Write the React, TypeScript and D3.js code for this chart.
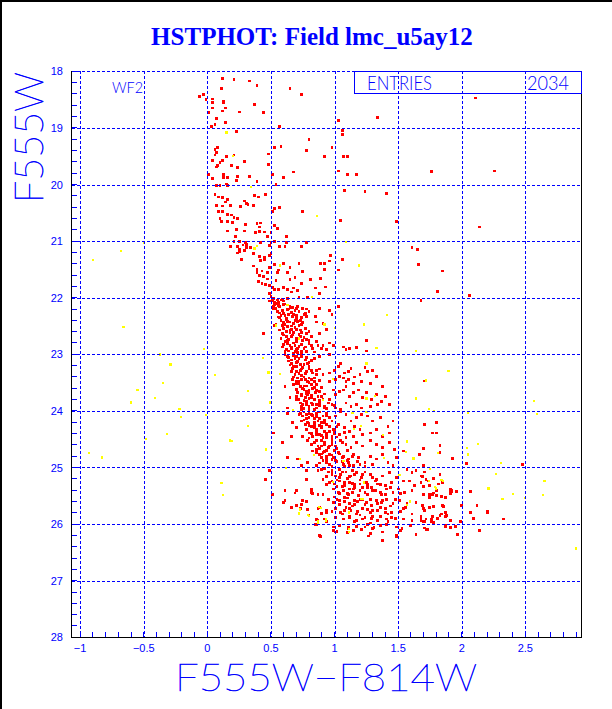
import React, { useEffect, useRef } from "react";
import * as d3 from "d3";

const title = "HSTPHOT: Field lmc_u5ay12";
const xLabel = "F555W\u2212F814W";
const yLabel = "F555W";
const chipName = "WF2";
const entriesLabel = "ENTRIES";
const entriesValue = "2034";

const xGrid = [-1, -0.5, 0, 0.5, 1, 1.5, 2, 2.5];
const xTickLabels = ["\u22121", "\u22120.5", "0", "0.5", "1", "1.5", "2", "2.5"];
const yGrid = [18, 19, 20, 21, 22, 23, 24, 25, 26, 27, 28];

// stars brighter than ~21 mag (upper main sequence + scattered)
const upperSequence = [
  [0.12,18.13],[0.21,18.14],[0.33,18.17],[0.39,18.25],[0.11,18.31],[0.65,18.31],[0.74,18.41],[-0.06,18.45],
  [-0.03,18.41],[-0.01,18.5],[0.04,18.49],[0.04,18.55],[0.13,18.53],[0.13,18.56],[0.04,18.65],[0.14,18.65],
  [0.12,18.7],[0.25,18.72],[0.44,18.73],[0.37,18.59],[0.01,18.73],[0.07,18.84],[0.14,18.91],[0.06,18.94],
  [0.03,18.98],[0.57,18.98],[1.03,18.87],[1.34,18.82],[0.23,19.06],[1.06,19.04],[1.06,19.12],[2.11,18.47],
  [0.08,19.34],[0.06,19.38],[0.07,19.43],[0.06,19.48],[0.21,19.48],[0.15,19.5],[0.12,19.58],[0.04,19.58],
  [0.1,19.61],[0.29,19.6],[0.19,19.67],[0.08,19.67],[0.07,19.69],[0.24,19.7],[0.48,19.46],[0.53,19.35],
  [0.58,19.33],[0.48,19.64],[0.78,19.4],[0.8,19.21],[0.92,19.5],[0.98,19.35],[1.07,19.51],[1.1,19.5],
  [1.03,19.76],[1.1,19.83],[1.17,19.82],[0.68,19.78],[0.6,19.87],[0.51,19.83],[0.01,19.83],[0.04,19.89],
  [0.13,19.82],[0.13,19.87],[0.16,19.87],[0.24,19.86],[0.33,19.86],[0.39,19.95],[0.23,19.93],[1.76,19.77],
  [2.26,19.76],[0.07,20.02],[0.1,20.02],[0.15,19.99],[0.16,20.02],[0.54,20.0],[1.08,20.1],[1.24,20.12],
  [1.41,20.16],[0.06,20.18],[0.09,20.22],[0.12,20.23],[0.16,20.26],[0.37,20.19],[0.4,20.22],[0.46,20.17],
  [0.07,20.37],[0.12,20.38],[0.18,20.37],[0.14,20.31],[0.29,20.29],[0.31,20.34],[0.32,20.36],[0.36,20.37],
  [0.26,20.39],[0.53,20.43],[0.57,20.41],[0.51,20.47],[0.75,20.48],[0.09,20.48],[0.12,20.48],[0.16,20.53],
  [0.19,20.54],[0.1,20.6],[0.11,20.65],[0.16,20.65],[0.2,20.67],[0.24,20.6],[0.21,20.58],[1.05,20.64],
  [1.49,20.66],[2.14,20.75],[0.39,20.69],[0.42,20.68],[0.3,20.7],[0.41,20.75],[0.53,20.73],[0.55,20.78],
  [0.16,20.82],[0.23,20.8],[0.41,20.83],[0.45,20.84],[0.5,20.85],[0.62,20.92],[0.29,20.82],[0.38,20.85],
  [0.47,20.92],[0.22,20.92],
];

// turnoff region, 21 to 22.2 mag
const turnoffStars = [
  [0.21,21.0],[0.25,21.01],[0.3,21.03],[0.31,21.06],[0.28,21.07],[0.24,21.09],[0.25,21.15],[0.34,21.12],
  [0.31,21.12],[0.29,21.16],[0.18,21.1],[0.5,21.02],[0.49,21.08],[0.42,21.02],[0.53,21.01],[0.62,21.02],
  [0.78,21.03],[0.74,21.1],[0.61,21.1],[0.57,21.09],[0.97,21.25],[1.03,21.51],[1.06,21.33],[0.96,21.35],
  [0.92,21.5],[0.89,21.39],[0.92,21.39],[0.41,21.27],[0.45,21.28],[0.45,21.33],[0.42,21.34],[0.36,21.22],
  [0.27,21.32],[0.24,21.21],[0.25,21.19],[0.5,21.22],[0.49,21.25],[0.53,21.41],[0.56,21.51],[0.55,21.56],
  [0.6,21.4],[0.65,21.46],[0.63,21.56],[0.65,21.68],[0.69,21.65],[0.75,21.54],[0.72,21.4],[0.36,21.44],
  [0.39,21.5],[0.43,21.53],[0.47,21.56],[0.49,21.47],[0.39,21.55],[0.41,21.61],[0.44,21.63],[0.47,21.67],
  [0.4,21.72],[0.43,21.75],[0.46,21.76],[0.49,21.79],[0.51,21.82],[0.54,21.7],[0.53,21.86],[0.56,21.86],
  [0.6,21.82],[0.63,21.85],[0.68,21.83],[0.66,21.9],[0.71,21.87],[0.74,21.75],[0.81,21.68],[0.85,21.83],
  [0.88,21.92],[0.93,21.81],[0.89,21.66],[0.49,21.92],[0.5,21.98],[0.79,21.99],[0.72,22.0],[0.63,22.01],
  [0.59,22.03],[0.55,22.04],[0.53,22.12],[0.56,22.14],[0.6,22.12],[0.67,22.18],[0.71,22.16],[0.78,22.2],
  [0.88,22.19],[1.03,22.16],[0.49,22.06],[0.52,22.19],[1.61,21.12],[1.65,21.15],[1.66,21.42],[1.85,21.53],
  [1.81,21.89],[2.06,21.96],[1.68,22.05],[1.81,21.9],
];

// main sequence ridge, 22 to 24 mag
const ridgeUpper = [
  [0.51,22.05],[0.53,22.09],[0.56,22.08],[0.58,22.04],[0.61,22.11],[0.63,22.13],[0.52,22.15],[0.54,22.19],
  [0.57,22.16],[0.59,22.22],[0.63,22.21],[0.66,22.18],[0.69,22.23],[0.71,22.15],[0.75,22.19],[0.77,22.28],
  [0.8,22.25],[0.57,22.27],[0.61,22.31],[0.64,22.29],[0.67,22.33],[0.7,22.37],[0.73,22.4],[0.76,22.29],
  [0.78,22.33],[0.85,22.33],[0.86,22.43],[0.72,22.25],[0.74,22.47],[0.56,22.34],[0.58,22.4],[0.62,22.39],
  [0.65,22.43],[0.68,22.46],[0.54,22.47],[0.59,22.49],[0.63,22.51],[0.66,22.56],[0.69,22.53],[0.73,22.57],
  [0.77,22.54],[0.8,22.6],[0.91,22.46],[0.94,22.56],[0.96,22.22],[0.98,22.29],[1.03,22.16],
  [0.57,22.57],[0.59,22.63],[0.62,22.69],[0.65,22.62],[0.67,22.66],[0.7,22.72],[0.73,22.68],[0.75,22.75],
  [0.78,22.63],[0.82,22.69],[0.86,22.78],[0.88,22.63],[0.91,22.84],[0.96,22.8],[0.58,22.72],[0.61,22.78],
  [0.63,22.81],[0.66,22.87],[0.69,22.84],[0.71,22.9],[0.74,22.95],[0.77,22.87],[0.8,22.81],[0.83,22.9],
  [0.87,22.85],[0.9,22.9],[0.94,22.92],[0.99,22.84],[1.07,22.87],[1.09,22.92],[1.12,22.9],[1.17,22.88],
  [1.25,22.75],[1.25,22.94],[0.44,22.63],[0.53,22.49],[0.61,22.95],[0.64,22.94],[0.69,22.95],[0.71,22.97],
  [0.59,22.87],
  [0.61,23.01],[0.63,23.04],[0.66,23.1],[0.69,23.07],[0.71,23.13],[0.74,23.04],[0.77,23.1],[0.79,23.16],
  [0.82,23.11],[0.84,23.07],[0.88,23.04],[0.96,23.01],[0.65,23.19],[0.67,23.25],[0.7,23.21],[0.73,23.28],
  [0.75,23.23],[0.78,23.3],[0.8,23.26],[0.83,23.33],[0.86,23.29],[0.91,23.36],[0.96,23.33],[1.0,23.28],
  [1.03,23.22],[1.05,23.16],[1.08,23.33],[1.11,23.3],[1.13,23.25],[1.16,23.4],[1.2,23.36],[1.24,23.23],
  [1.26,23.3],[1.3,23.28],[1.38,23.57],[0.69,23.36],[0.71,23.42],[0.74,23.38],[0.77,23.45],[0.79,23.48],
  [0.82,23.44],[0.67,23.45],[1.01,23.45],[1.04,23.39],[1.07,23.42],[1.09,23.48],[1.15,23.51],[1.21,23.48],
  [1.28,23.51],[1.33,23.39],[1.11,23.45],[0.61,23.57],[0.96,23.48],[1.71,23.47],
  [0.7,23.51],[0.73,23.57],[0.75,23.6],[0.78,23.56],[0.8,23.63],[0.83,23.6],[0.86,23.54],[0.88,23.66],
  [0.71,23.68],[0.74,23.73],[0.77,23.77],[0.79,23.71],[0.82,23.76],[0.84,23.8],[0.87,23.74],[0.91,23.8],
  [0.95,23.86],[0.99,23.63],[1.01,23.71],[1.04,23.66],[1.07,23.63],[1.09,23.57],[1.12,23.74],[1.15,23.68],
  [1.19,23.63],[1.22,23.77],[1.25,23.68],[1.29,23.8],[1.33,23.71],[1.37,23.83],[1.43,23.89],[0.7,23.8],
  [0.73,23.86],[0.75,23.89],[0.78,23.83],[0.8,23.92],[0.83,23.89],[0.86,23.95],[0.88,23.86],[0.92,23.92],
  [0.98,23.89],[1.01,23.95],[1.05,23.98],[1.09,23.86],[1.13,23.92],[1.17,23.89],[1.21,23.95],[1.28,23.92],
  [1.34,23.89],[1.4,23.74],[0.65,23.77],[0.74,23.98],[0.63,23.95],[0.8,23.68],
];

// lower main sequence and subgiants, 24 to 26.3 mag
const ridgeLower = [
  [0.63,24.04],[0.73,24.04],[0.75,24.09],[0.78,24.07],[0.8,24.12],[0.83,24.08],[0.86,24.05],[0.88,24.14],
  [0.91,24.09],[0.94,24.04],[0.96,24.12],[1.01,24.09],[1.05,24.02],[1.09,24.07],[1.13,24.18],[1.17,24.12],
  [1.21,24.07],[1.26,24.09],[1.3,24.18],[1.36,24.12],[1.42,24.27],[1.46,24.18],[0.74,24.18],[0.77,24.24],
  [0.79,24.2],[0.82,24.28],[0.84,24.24],[0.87,24.18],[0.9,24.27],[0.92,24.21],[0.96,24.27],[0.99,24.33],
  [1.03,24.24],[1.08,24.3],[1.12,24.36],[1.16,24.27],[1.2,24.33],[1.22,24.42],[1.28,24.39],[1.33,24.33],
  [1.38,24.45],[1.43,24.39],[0.78,24.33],[0.8,24.39],[0.83,24.45],[0.86,24.36],[0.88,24.42],[0.91,24.47],
  [0.94,24.39],[0.98,24.45],[1.04,24.42],[1.09,24.47],[1.15,24.45],[0.66,24.45],[0.59,24.56],[0.52,24.39],
  [0.75,24.45],[0.7,24.3],[0.67,24.21],
  [0.79,24.53],[0.82,24.59],[0.84,24.56],[0.87,24.62],[0.9,24.53],[0.92,24.59],[0.95,24.65],[0.98,24.56],
  [1.01,24.62],[1.05,24.53],[1.09,24.59],[1.13,24.65],[1.17,24.56],[1.22,24.62],[1.28,24.53],[1.33,24.59],
  [1.38,24.65],[1.43,24.56],[1.47,24.68],[0.83,24.71],[0.86,24.74],[0.88,24.77],[0.91,24.73],[0.94,24.8],
  [0.96,24.77],[0.99,24.83],[1.03,24.74],[1.07,24.8],[1.11,24.85],[1.15,24.77],[1.19,24.83],[1.24,24.91],
  [1.28,24.8],[1.33,24.85],[1.38,24.77],[1.42,24.91],[1.49,24.83],[0.91,24.88],[0.94,24.91],[0.96,24.94],
  [1.01,24.88],[1.07,24.94],[1.11,24.91],[1.15,24.97],[1.2,24.94],[1.3,24.94],[0.63,24.83],[0.71,24.85],
  [0.74,24.97],[0.79,24.91],[1.46,24.97],[1.54,24.71],[1.67,24.77],
  [0.78,25.06],[0.87,25.06],[0.95,25.08],[0.98,25.12],[1.01,25.15],[1.05,25.12],[1.09,25.08],[1.13,25.15],
  [1.17,25.09],[1.21,25.18],[1.24,25.08],[1.28,25.12],[1.33,25.21],[1.38,25.15],[1.43,25.09],[1.49,25.18],
  [1.57,25.03],[1.61,25.09],[1.64,25.06],[1.68,25.15],[1.72,25.21],[0.91,25.21],[0.96,25.26],[1.0,25.29],
  [1.04,25.24],[1.08,25.32],[1.12,25.26],[1.16,25.35],[1.2,25.29],[1.25,25.26],[1.29,25.35],[1.34,25.29],
  [1.4,25.32],[1.45,25.26],[1.5,25.38],[1.54,25.24],[1.59,25.24],[1.63,25.32],[1.68,25.26],[1.75,25.32],
  [1.8,25.41],[1.85,25.26],[1.91,25.38],[0.99,25.38],[1.03,25.44],[1.07,25.41],[1.11,25.47],[1.15,25.38],
  [1.19,25.5],[1.24,25.44],[1.3,25.41],[1.37,25.47],[1.41,25.38],[1.46,25.44],[1.55,25.44],[1.61,25.41],
  [1.7,25.47],[1.78,25.45],[0.78,25.21],[0.49,25.06],[0.46,25.21],[0.7,25.41],[0.82,25.44],
  [0.61,25.59],[0.75,25.59],[0.95,25.56],[0.99,25.62],[1.04,25.59],[1.08,25.53],[1.12,25.64],[1.16,25.59],
  [1.2,25.56],[1.25,25.62],[1.29,25.67],[1.33,25.59],[1.37,25.62],[1.41,25.56],[1.46,25.64],[1.51,25.59],
  [1.57,25.64],[1.64,25.62],[1.7,25.73],[1.75,25.7],[1.85,25.67],[0.88,25.7],[0.94,25.76],[1.01,25.73],
  [1.05,25.79],[1.09,25.7],[1.13,25.76],[1.17,25.82],[1.22,25.73],[1.28,25.79],[1.34,25.76],[1.4,25.73],
  [1.45,25.79],[1.54,25.73],[1.61,25.82],[1.68,25.88],[1.76,25.91],[1.83,25.85],[0.73,25.73],[0.8,25.85],
  [0.87,25.94],[1.01,25.88],[1.07,25.91],[1.12,25.88],[1.17,25.94],[1.22,25.91],[1.29,25.9],[1.34,25.94],
  [1.41,25.91],[1.45,25.88],[1.54,25.91],[1.61,25.94],[1.72,25.91],[1.91,25.94],[0.92,25.91],
  [0.85,26.0],[0.99,26.05],[1.04,26.02],[1.11,26.08],[1.17,26.04],[1.24,26.05],[1.3,26.08],[1.36,26.02],
  [1.41,26.0],[1.49,26.05],[1.53,26.08],[1.71,26.07],[1.87,26.04],[1.95,26.04],[0.88,26.2],[1.01,26.14],
  [1.28,26.17],[1.49,26.2],[1.64,26.19],
];

// red side of the lower sequence, 1.6 to 2.5 colour
const redBranch = [
  [1.71,24.24],[1.8,24.2],[1.77,24.39],[1.8,24.39],[1.83,24.61],[1.7,24.67],[1.83,24.74],[1.93,24.84],
  [2.04,24.93],[2.48,24.94],[1.7,24.96],[1.71,25.08],[1.69,25.16],[1.78,25.19],[1.83,25.13],[1.74,25.24],
  [1.82,25.29],[1.7,25.33],[1.92,25.41],[1.91,25.43],[1.96,25.42],[2.07,25.42],[1.77,25.47],[1.8,25.49],
  [1.75,25.53],[1.87,25.53],[1.69,25.67],[1.78,25.69],[1.86,25.69],[2.0,25.67],[2.12,25.67],[1.71,25.76],
  [1.87,25.8],[1.84,25.82],[1.88,25.85],[2.07,25.8],[2.2,25.79],[1.68,25.87],[1.81,25.9],[2.09,25.9],
  [2.33,25.91],[1.68,25.94],[1.71,25.96],[1.76,25.95],[1.78,25.97],[1.99,25.96],[1.87,26.03],[1.91,26.07],
  [1.73,26.1],[2.14,26.12],[1.97,26.19],
  [0.99,26.12],[1.02,26.13],[1.1,26.15],[1.15,26.12],[1.21,26.09],[1.27,26.21],[1.38,26.29],[1.38,26.14],
  [1.49,26.22],[1.52,26.12],[1.6,26.03],[1.72,26.1],[1.91,26.06],[1.97,26.18],[2.14,26.12],[0.89,26.22],
  [0.86,26.0],[1.04,26.03],[1.31,26.06],[1.26,26.01],[1.11,26.05],[1.21,26.09],
  [0.51,25.47],[0.61,25.4],[0.69,25.45],[0.6,25.62],[0.66,25.71],[0.7,25.67],[0.74,25.65],[0.78,25.6],
  [0.79,25.74],[0.82,25.39],[0.83,25.46],[0.87,25.47],[0.91,25.47],[0.87,25.73],[0.9,25.81],[0.94,25.79],
  [0.86,25.92],[0.94,25.95],[2.0,25.68],[2.12,25.68],[2.07,25.8],[2.2,25.78],[2.09,25.9],[1.87,25.8],
  [1.87,25.86],[1.91,25.46],[1.92,25.43],[1.84,25.51],[1.78,25.69],[1.75,25.47],[1.77,25.87],[1.7,25.95],
];

// second reading of the densest part of the sequence
const coreExtra = [
  [0.58,22.31],[0.62,22.36],[0.68,22.3],[0.71,22.42],[0.6,22.44],[0.66,22.5],[0.74,22.35],[0.55,22.24],
  [0.64,22.2],[0.7,22.19],[0.62,22.6],[0.68,22.62],[0.72,22.65],[0.64,22.74],[0.7,22.78],[0.76,22.7],
  [0.66,22.9],[0.72,22.86],[0.78,22.95],[0.6,22.82],[0.82,22.84],[0.68,23.02],[0.72,23.08],[0.64,23.12],
  [0.76,23.18],[0.7,23.15],[0.8,23.22],[0.66,23.3],[0.72,23.34],[0.76,23.4],[0.84,23.42],[0.7,23.48],
  [0.8,23.5],[0.88,23.26],[0.72,23.52],[0.76,23.62],[0.84,23.58],[0.78,23.7],[0.7,23.75],[0.85,23.68],
  [0.9,23.74],[0.76,23.82],[0.82,23.86],[0.88,23.9],[0.74,23.92],[0.94,23.96],[0.8,23.98],[0.76,24.02],
  [0.82,24.06],[0.88,24.02],[0.92,24.16],[0.78,24.14],[0.84,24.2],[0.9,24.3],[0.8,24.26],[0.86,24.32],
  [0.96,24.36],[0.82,24.4],[0.9,24.44],[0.94,24.48],[1.0,24.4],[0.86,24.52],[0.92,24.56],[0.96,24.62],
  [0.88,24.66],[1.0,24.7],[0.92,24.72],[1.04,24.76],[0.98,24.86],[1.06,24.9],[0.9,24.82],[1.12,24.96],
  [0.86,24.96],[0.92,25.02],[0.98,25.06],[1.04,25.04],[1.1,25.2],[1.02,25.22],[1.14,25.28],[1.06,25.34],
  [1.2,25.4],[1.1,25.46],[0.94,25.3],[1.26,25.36],[1.32,25.24],[1.36,25.44],[1.16,25.12],[1.0,25.52],
  [1.08,25.6],[1.16,25.66],[1.22,25.56],[1.12,25.72],[1.26,25.74],[1.3,25.86],[1.2,25.84],[1.06,25.82],
  [1.36,25.7],[1.42,25.82],[0.98,25.78],
];

// third reading, filling the solid part of the band
const coreFill = [
  [0.52,22.02],[0.55,22.1],[0.6,22.06],[0.65,22.15],[0.6,22.28],[0.66,22.26],[0.7,22.32],[0.57,22.36],
  [0.63,22.42],[0.69,22.4],[0.75,22.44],[0.61,22.48],[0.72,22.49],
  [0.6,22.54],[0.65,22.58],[0.7,22.56],[0.74,22.62],[0.6,22.66],[0.66,22.68],[0.72,22.72],[0.78,22.74],
  [0.63,22.76],[0.68,22.8],[0.74,22.82],[0.8,22.76],[0.65,22.85],[0.7,22.92],[0.76,22.9],[0.62,22.92],
  [0.68,22.98],[0.74,22.99],[0.84,22.96],
  [0.64,23.06],[0.7,23.04],[0.78,23.06],[0.66,23.16],[0.73,23.18],[0.8,23.14],[0.68,23.22],[0.74,23.26],
  [0.82,23.28],[0.7,23.3],[0.77,23.34],[0.86,23.36],[0.68,23.4],[0.74,23.44],[0.8,23.42],[0.88,23.46],
  [0.72,23.48],[0.84,23.48],
  [0.68,23.54],[0.76,23.56],[0.82,23.54],[0.9,23.58],[0.7,23.62],[0.78,23.66],[0.86,23.64],[0.74,23.7],
  [0.82,23.72],[0.92,23.7],[0.72,23.8],[0.8,23.78],[0.88,23.82],[0.96,23.8],[0.78,23.88],[0.86,23.88],
  [0.92,23.94],[0.76,23.96],[0.84,23.98],[1.0,23.9],
  [0.72,24.06],[0.8,24.04],[0.86,24.1],[0.94,24.08],[0.76,24.16],[0.84,24.14],[0.9,24.2],[0.98,24.18],
  [0.8,24.22],[0.88,24.26],[0.94,24.24],[1.02,24.28],[0.84,24.3],[0.92,24.36],[1.0,24.34],[0.86,24.42],
  [0.94,24.44],[1.02,24.46],[1.08,24.38],[0.8,24.48],[0.98,24.5],
  [0.84,24.56],[0.9,24.62],[0.98,24.6],[1.06,24.56],[0.86,24.68],[0.94,24.7],[1.02,24.66],[1.1,24.7],
  [0.9,24.76],[0.98,24.78],[1.06,24.82],[1.14,24.8],[0.94,24.86],[1.02,24.9],[1.1,24.88],[1.18,24.9],
  [0.88,24.92],[0.98,24.98],[1.08,24.98],[1.24,24.98],
  [0.9,25.04],[0.98,25.1],[1.06,25.08],[1.14,25.06],[1.22,25.12],[0.94,25.16],[1.04,25.18],[1.12,25.16],
  [1.2,25.22],[1.3,25.18],[0.98,25.24],[1.08,25.26],[1.16,25.3],[1.26,25.3],[1.36,25.3],[1.02,25.34],
  [1.12,25.38],[1.22,25.36],[1.32,25.4],[1.44,25.36],[1.04,25.46],[1.14,25.44],[1.26,25.48],[1.4,25.48],
  [1.52,25.46],
  [1.02,25.56],[1.1,25.54],[1.18,25.6],[1.28,25.56],[1.38,25.58],[1.48,25.56],[1.04,25.66],[1.14,25.68],
  [1.24,25.66],[1.34,25.64],[1.44,25.68],[1.56,25.7],[1.08,25.76],[1.18,25.78],[1.3,25.76],[1.4,25.8],
  [1.52,25.78],[1.12,25.86],[1.24,25.88],[1.36,25.86],[1.48,25.9],[1.16,25.96],[1.28,25.98],[1.42,25.96],
];

// yellow (second flag) stars
const yellowStars = [
  [0.15,19.08],[0.2,19.5],[0.34,20.04],[0.86,20.56],[0.39,21.08],[0.37,21.13],[1.09,21.02],[1.19,21.43],
  [0.57,21.43],[0.82,21.98],[0.63,22.13],[0.54,22.49],[0.92,22.47],[0.72,22.72],[1.0,22.53],[1.23,22.47],
  [1.41,22.31],[1.33,22.88],[1.25,23.16],[0.48,23.32],[0.5,23.5],[0.44,23.07],[0.57,23.35],[0.32,23.64],
  [0.49,23.85],[0.67,23.98],[0.91,23.8],[0.99,23.44],[1.14,24.04],[1.25,23.78],[1.32,23.73],[1.25,24.02],
  [1.64,23.78],[1.74,23.97],[1.78,24.0],[1.89,23.29],[1.72,23.46],[1.64,22.94],[0.18,24.52],[0.32,24.27],
  [0.46,24.68],[0.73,24.85],[0.62,25.01],[0.84,24.78],[1.15,24.32],[1.38,24.42],[1.39,24.83],[1.56,24.72],
  [1.57,24.54],[1.81,24.74],[1.62,24.84],[1.74,25.24],[1.79,25.34],[1.84,25.22],[1.51,25.13],[1.59,25.6],
  [1.23,25.26],[1.21,25.55],[1.11,25.78],[0.88,25.69],[0.73,25.74],[0.72,25.81],[0.79,25.84],[0.93,25.91],
  [0.87,25.94],[1.11,26.09],[1.07,24.88],[0.99,25.25],[1.21,24.27],[1.9,23.3],[2.05,24.03],[2.57,23.83],
  [2.59,24.05],[2.04,24.66],[2.13,24.58],[2.05,24.77],[2.31,24.92],[1.75,25.02],[2.27,25.12],[2.21,25.37],
  [2.4,25.46],[2.32,25.56],[2.5,25.54],[2.65,25.24],[2.64,25.48],[2.9,26.43],[-0.5,21.03],[-0.68,21.17],
  [-0.9,21.33],[-0.66,22.51],[-0.03,22.9],[-0.37,23.0],[-0.29,23.18],[0.06,23.36],[-0.35,23.5],[-0.55,23.63],
  [-0.41,23.77],[-0.6,23.85],[-0.22,23.96],[-0.21,24.1],[-0.01,24.07],[-0.32,24.4],[-0.48,24.49],[0.19,24.53],
  [-0.93,24.74],[-0.83,24.82],[0.11,25.27],[0.12,25.48],[0.89,25.72],[0.87,25.97],[0.93,25.94],[0.8,25.86],
  [0.72,25.82],[1.11,25.8],[1.11,26.14],[1.22,25.56],[1.57,25.66],[1.23,25.27],[1.8,25.37],[1.85,25.24],
  [2.21,25.38],
];

const BLUE = "#0000ff";
const thinFont = "Lato, 'DejaVu Sans', sans-serif";

const App = () => {
  const svgRef = useRef<SVGSVGElement>(null);

  useEffect(() => {
    const w = 612;
    const h = 709;
    const box = { left: 71.5, right: 581.5, top: 71.3, bottom: 637.3 };

    const svg = d3.select(svgRef.current).attr("width", w).attr("height", h);
    svg.selectAll("*").remove();

    const x = d3.scaleLinear().domain([-1.068, 2.942]).range([box.left, box.right]);
    const y = d3.scaleLinear().domain([18, 28]).range([box.top, box.bottom]);

    svg.append("rect").attr("width", w).attr("height", h).attr("fill", "white");
    // outer border of the picture (left and top)
    svg.append("path").attr("d", `M1,${h} V1 H${w}`).attr("fill", "none").attr("stroke", "black").attr("stroke-width", 2);

    svg.append("text")
      .attr("x", 312).attr("y", 45)
      .attr("text-anchor", "middle")
      .attr("font-family", "'Liberation Serif', 'Times New Roman', serif")
      .attr("font-weight", "bold")
      .attr("font-size", 25)
      .attr("fill", BLUE)
      .text(title);

    const red = [...upperSequence, ...turnoffStars, ...ridgeUpper, ...ridgeLower, ...redBranch, ...coreExtra, ...coreFill];

    const pts = svg.append("g").attr("shape-rendering", "crispEdges");
    pts.selectAll(".red").data(red).enter().append("rect")
      .attr("class", "red")
      .attr("x", (d) => x(d[0]) - 1.4)
      .attr("y", (d) => y(d[1]) - 1.4)
      .attr("width", 2.8).attr("height", 2.8)
      .attr("fill", "#ff0000");
    pts.selectAll(".yel").data(yellowStars).enter().append("rect")
      .attr("class", "yel")
      .attr("x", (d) => x(d[0]) - 1)
      .attr("y", (d) => y(d[1]) - 1)
      .attr("width", 2.2).attr("height", 2.2)
      .attr("fill", "#ffff00");

    // grid
    const grid = svg.append("g").attr("stroke", BLUE).attr("stroke-dasharray", "3,2").attr("shape-rendering", "crispEdges");
    grid.selectAll(".gx").data(xGrid).enter().append("line")
      .attr("x1", (d) => Math.round(x(d)) + 0.5).attr("x2", (d) => Math.round(x(d)) + 0.5)
      .attr("y1", box.top).attr("y2", box.bottom);
    grid.selectAll(".gy").data(yGrid).enter().append("line")
      .attr("x1", box.left).attr("x2", box.right)
      .attr("y1", (d) => Math.round(y(d)) + 0.5).attr("y2", (d) => Math.round(y(d)) + 0.5);

    // frame (top edge is the dashed 18 line)
    svg.append("path")
      .attr("d", `M${box.left},${box.top} V${box.bottom} H${box.right} V${box.top}`)
      .attr("fill", "none").attr("stroke", "black").attr("shape-rendering", "crispEdges");

    // minor ticks
    const ticks = svg.append("g").attr("stroke", BLUE).attr("shape-rendering", "crispEdges");
    const xMinor = d3.range(-10, 30).map((i) => i / 10);
    ticks.selectAll(".tx").data(xMinor).enter().append("line")
      .attr("x1", (d) => x(d)).attr("x2", (d) => x(d))
      .attr("y1", box.bottom).attr("y2", box.bottom - 5);
    const yMinor = d3.range(90, 140).map((i) => i / 5);
    ticks.selectAll(".ty").data(yMinor).enter().append("line")
      .attr("x1", box.left).attr("x2", box.left + 5)
      .attr("y1", (d) => y(d)).attr("y2", (d) => y(d));

    // tick labels
    svg.append("g").selectAll("text").data(xGrid).enter().append("text")
      .attr("x", (d) => x(d)).attr("y", 652)
      .attr("text-anchor", "middle")
      .attr("font-family", "'Liberation Sans', Arial, sans-serif")
      .attr("font-size", 11).attr("fill", BLUE)
      .text((d, i) => xTickLabels[i]);
    svg.append("g").selectAll("text").data(yGrid).enter().append("text")
      .attr("x", 63).attr("y", (d) => y(d) + 4)
      .attr("text-anchor", "end")
      .attr("font-family", "'Liberation Sans', Arial, sans-serif")
      .attr("font-size", 11).attr("fill", BLUE)
      .text((d) => String(d));

    // axis titles (thin single-stroke look)
    svg.append("text")
      .attr("x", 175).attr("y", 691)
      .attr("textLength", 302).attr("lengthAdjust", "spacingAndGlyphs")
      .attr("font-family", thinFont).attr("font-weight", 100)
      .attr("stroke", BLUE).attr("stroke-width", 0.6)
      .attr("font-size", 38).attr("fill", BLUE)
      .text(xLabel);
    svg.append("text")
      .attr("transform", "translate(43,72) rotate(-90)")
      .attr("text-anchor", "end")
      .attr("textLength", 131).attr("lengthAdjust", "spacingAndGlyphs")
      .attr("font-family", thinFont).attr("font-weight", 100)
      .attr("stroke", BLUE).attr("stroke-width", 0.6)
      .attr("font-size", 40).attr("fill", BLUE)
      .text(yLabel);

    // WF2 chip label
    svg.append("text")
      .attr("x", 112).attr("y", 93)
      .attr("textLength", 31).attr("lengthAdjust", "spacingAndGlyphs")
      .attr("font-family", thinFont).attr("font-weight", 300)
      .attr("font-size", 15).attr("fill", BLUE)
      .text(chipName);

    // statistics box
    svg.append("rect")
      .attr("x", 354.5).attr("y", box.top)
      .attr("width", box.right - 354.5).attr("height", 22)
      .attr("fill", "none").attr("stroke", BLUE).attr("shape-rendering", "crispEdges");
    svg.append("text")
      .attr("x", 367).attr("y", 89.5)
      .attr("textLength", 65).attr("lengthAdjust", "spacingAndGlyphs")
      .attr("font-family", thinFont).attr("font-weight", 300)
      .attr("font-size", 19).attr("fill", BLUE)
      .text(entriesLabel);
    svg.append("text")
      .attr("x", 527).attr("y", 89.5)
      .attr("textLength", 42).attr("lengthAdjust", "spacingAndGlyphs")
      .attr("font-family", thinFont).attr("font-weight", 300)
      .attr("font-size", 19).attr("fill", BLUE)
      .text(entriesValue);
  }, []);

  return (
    <div style={{ position: "absolute", left: 0, top: 0 }}>
      <svg ref={svgRef} style={{ display: "block" }}></svg>
    </div>
  );
};

export default App;
